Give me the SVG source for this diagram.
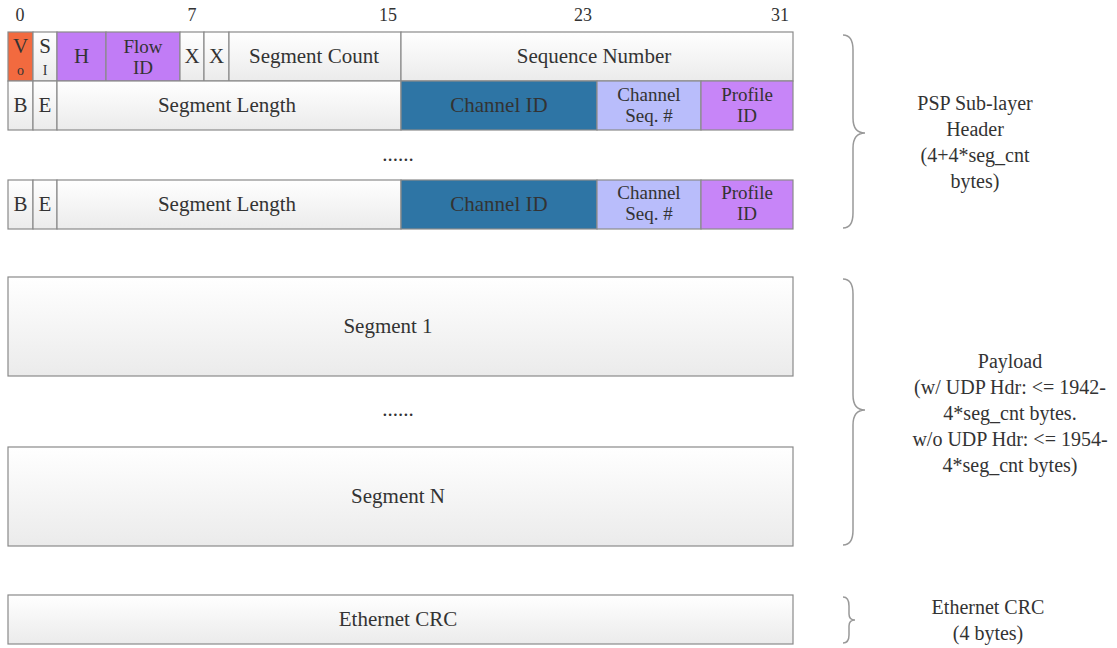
<svg xmlns="http://www.w3.org/2000/svg" width="1117" height="648" viewBox="0 0 1117 648">
<defs>
<linearGradient id="g" x1="0" y1="0" x2="0" y2="1"><stop offset="0" stop-color="#ffffff"/><stop offset="1" stop-color="#ebebeb"/></linearGradient>
<style>
.c{fill:url(#g);stroke:#8a8a8a;stroke-width:1.2}
.o{fill:#f26a3f;stroke:#8a8a8a;stroke-width:1.2}
.p{fill:#c17cf6;stroke:#8a8a8a;stroke-width:1.2}
.b{fill:#2e75a5;stroke:#8a8a8a;stroke-width:1.2}
.l{fill:#b9bdfb;stroke:#8a8a8a;stroke-width:1.2}
.q{fill:#c785f8;stroke:#8a8a8a;stroke-width:1.2}
text{font-family:"Liberation Serif",serif;fill:#333;text-anchor:middle}
.t{font-size:21px}
.s{font-size:19px}
.r{font-size:20px}
.br{fill:none;stroke:#999;stroke-width:1.5}
</style>
</defs>
<g id="bits">
<text x="20" y="21" font-size="18">0</text>
<text x="192" y="21" font-size="18">7</text>
<text x="388" y="21" font-size="18">15</text>
<text x="583" y="21" font-size="18">23</text>
<text x="780" y="21" font-size="18">31</text>
</g>
<g id="row1">
<rect class="o" x="8" y="32" width="25" height="49"/><text class="t" x="20.5" y="53">V</text><text x="20.5" y="75" font-size="14">o</text>
<rect class="c" x="33" y="32" width="24" height="49"/><text class="t" x="45" y="53">S</text><text x="45" y="75" font-size="14">I</text>
<rect class="p" x="57" y="32" width="49" height="49"/><text class="t" x="81.5" y="63">H</text>
<rect class="p" x="106" y="32" width="74" height="49"/><text class="s" x="143" y="53">Flow</text><text class="s" x="143" y="74">ID</text>
<rect class="c" x="180" y="32" width="24" height="49"/><text class="t" x="192" y="63">X</text>
<rect class="c" x="204" y="32" width="25" height="49"/><text class="t" x="216.5" y="63">X</text>
<rect class="c" x="229" y="32" width="172" height="49"/><text class="t" x="314" y="63">Segment Count</text>
<rect class="c" x="401" y="32" width="392" height="49"/><text class="t" x="594" y="63">Sequence Number</text>
</g>
<g id="row2">
<rect class="c" x="8" y="81" width="25" height="49"/><text class="t" x="20.5" y="112">B</text>
<rect class="c" x="33" y="81" width="24" height="49"/><text class="t" x="45" y="112">E</text>
<rect class="c" x="57" y="81" width="344" height="49"/><text class="t" x="227" y="112">Segment Length</text>
<rect class="b" x="401" y="81" width="196" height="49"/><text class="t" x="499" y="112">Channel ID</text>
<rect class="l" x="597" y="81" width="104" height="49"/><text class="s" x="649" y="101">Channel</text><text class="s" x="649" y="122">Seq. #</text>
<rect class="q" x="701" y="81" width="92" height="49"/><text class="s" x="747" y="101">Profile</text><text class="s" x="747" y="122">ID</text>
</g>
<g id="dots1"><text class="t" x="398" y="161">......</text></g>
<g id="row3">
<rect class="c" x="8" y="180" width="25" height="49"/><text class="t" x="20.5" y="211">B</text>
<rect class="c" x="33" y="180" width="24" height="49"/><text class="t" x="45" y="211">E</text>
<rect class="c" x="57" y="180" width="344" height="49"/><text class="t" x="227" y="211">Segment Length</text>
<rect class="b" x="401" y="180" width="196" height="49"/><text class="t" x="499" y="211">Channel ID</text>
<rect class="l" x="597" y="180" width="104" height="49"/><text class="s" x="649" y="199">Channel</text><text class="s" x="649" y="220">Seq. #</text>
<rect class="q" x="701" y="180" width="92" height="49"/><text class="s" x="747" y="199">Profile</text><text class="s" x="747" y="220">ID</text>
</g>
<g id="seg1"><rect class="c" x="8" y="277" width="785" height="99"/><text class="t" x="388" y="333">Segment 1</text></g>
<g id="dots2"><text class="t" x="398" y="416">......</text></g>
<g id="segN"><rect class="c" x="8" y="447" width="785" height="99"/><text class="t" x="398" y="503">Segment N</text></g>
<g id="crc"><rect class="c" x="8" y="595" width="785" height="49"/><text class="t" x="398" y="626">Ethernet CRC</text></g>
<g id="braces">
<path class="br" d="M843,35 Q853,35 853,50 L853,118 Q853,133 865,133 Q853,133 853,148 L853,213 Q853,228 843,228"/>
<path class="br" d="M843,279 Q853,279 853,294 L853,395 Q853,410 865,410 Q853,410 853,425 L853,530 Q853,545 843,545"/>
<path class="br" d="M843,597 Q849,597 849,606 L849,614 Q849,620 855,620 Q849,620 849,626 L849,635 Q849,643 843,643"/>
</g>
<g id="labels" class="r">
<text x="975" y="110">PSP Sub-layer</text>
<text x="975" y="136">Header</text>
<text x="975" y="162">(4+4*seg_cnt</text>
<text x="975" y="188">bytes)</text>
<text x="1010" y="368">Payload</text>
<text x="1010" y="394">(w/ UDP Hdr: &lt;= 1942-</text>
<text x="1010" y="420">4*seg_cnt bytes.</text>
<text x="1010" y="446">w/o UDP Hdr: &lt;= 1954-</text>
<text x="1010" y="472">4*seg_cnt bytes)</text>
<text x="988" y="614">Ethernet CRC</text>
<text x="988" y="640">(4 bytes)</text>
</g>
</svg>
